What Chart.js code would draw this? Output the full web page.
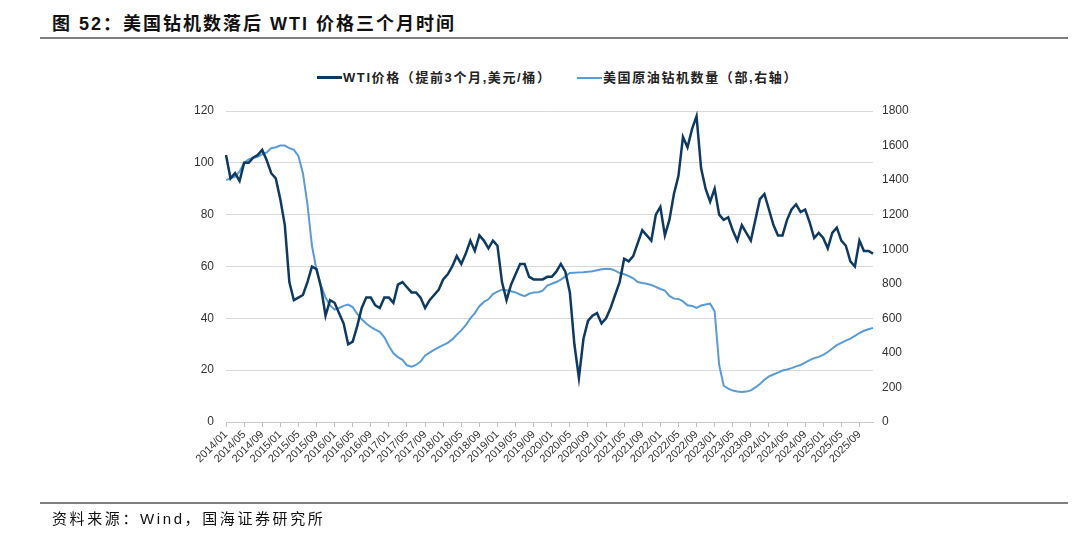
<!DOCTYPE html>
<html>
<head>
<meta charset="utf-8">
<script src="https://cdn.jsdelivr.net/npm/chart.js@4.4.1/dist/chart.umd.min.js"></script>
<style>
  html, body { margin: 0; padding: 0; background: #fff; }
  #wrap { position: relative; width: 1080px; height: 554px; overflow: hidden; }
  canvas { position: absolute; left: 0; top: 0; }
  #title {
    position: absolute; left: 52px; top: 9px;
    font: bold 18px "Liberation Sans", "Noto Sans CJK SC", sans-serif;
    letter-spacing: 2px; color: #111; white-space: nowrap;
  }
  .rule { position: absolute; left: 40px; width: 1028px; height: 2px; background: #808080; }
  .legend-item {
    position: absolute; top: 70px; height: 16px; white-space: nowrap;
    font: bold 13px "Liberation Sans", "Noto Sans CJK SC", sans-serif;
    letter-spacing: 1.6px; color: #222; line-height: 16px;
  }
  .legend-item i { display: inline-block; width: 25px; vertical-align: middle; margin-right: 1px; position: relative; top: -1px; }
  #source {
    position: absolute; left: 52px; top: 507px;
    font: 15px "Liberation Sans", "Noto Sans CJK SC", sans-serif;
    letter-spacing: 2.6px; color: #111; white-space: nowrap;
  }
</style>
</head>
<body>
<div id="wrap">
  <div id="title">图 52：美国钻机数落后 WTI 价格三个月时间</div>
  <div class="rule" style="top:37px"></div>
  <div class="legend-item" style="left:317px"><i style="height:3px;background:#0e3a62"></i>WTI价格（提前3个月,美元/桶）</div>
  <div class="legend-item" style="left:577px"><i style="height:2px;background:#5b9bd5"></i>美国原油钻机数量（部,右轴）</div>
  <canvas id="chart" width="1080" height="554"></canvas>
  <div class="rule" style="top:502px"></div>
  <div id="source">资料来源：Wind，国海证券研究所</div>
</div>
<script>
// monthly categories 2014/01 .. 2025/12
const monthLabels = [];
for (let y = 2014; y <= 2025; y++) {
  for (let m = 1; m <= 12; m++) monthLabels.push(y + "/" + String(m).padStart(2, "0"));
}

// WTI price, shifted 3 months ahead (USD/bbl)
const wtiPrice = [
  103, 94, 96, 93, 100, 100, 102, 103, 105, 101, 96, 94,
  86, 76, 54, 47, 48, 49, 54, 60, 59, 52, 41, 47,
  46, 42, 38, 30, 31, 37, 44, 48, 48, 45, 44, 48,
  48, 46, 53, 54, 52, 50, 50, 48, 44, 47, 49, 51,
  55, 57, 60, 64, 61, 65, 70, 66, 72, 70, 67, 70,
  68, 54, 47, 53, 57, 61, 61, 56, 55, 55, 55, 56,
  56, 58, 61, 58, 50, 30, 17, 32, 39, 41, 42, 38,
  40, 44, 49, 54, 63, 62, 64, 69, 74, 72, 70, 80,
  83, 72, 78, 88, 95, 110, 106, 113, 118, 98, 90, 85,
  90, 80, 78, 79, 74, 70, 76, 73, 70, 78, 86, 88,
  82, 76, 72, 72, 78, 82, 84, 81, 82, 77, 71, 73,
  71, 67, 73, 75, 70, 68, 62, 60, 70, 66, 66, 65
];

// US crude oil rig count (right axis)
const rigCount = [
  1400, 1410, 1420, 1450, 1500, 1520, 1530, 1535, 1550, 1560, 1585, 1590,
  1600, 1600, 1585, 1575, 1540, 1440, 1260, 1020, 880, 790, 720, 675,
  650, 660, 672, 680, 665, 625, 595, 570, 550, 535, 522, 490,
  440, 398, 375, 360, 328, 320, 330, 350, 385, 402, 418, 432,
  445, 458, 478, 505, 530, 560, 600, 630, 670, 695, 710, 740,
  755, 766, 763, 757, 750, 738, 728, 742, 750, 751, 760, 790,
  800, 810, 824, 843, 862, 864, 866, 867, 869, 872, 878, 884,
  887, 885, 876, 862, 855, 845, 832, 810, 804, 800, 793, 782,
  770, 760, 730, 714, 712, 698, 676, 672, 660, 674, 680, 685,
  640, 330, 210, 193, 182, 177, 173, 176, 183, 200, 220, 245,
  264, 275, 286, 298, 304, 312, 322, 330, 343, 358, 370, 377,
  388, 405, 425, 445, 458, 471, 483, 498, 515, 528, 537, 545
];

const leftTicks = [0, 20, 40, 60, 80, 100, 120];
const rightTicks = [0, 200, 400, 600, 800, 1000, 1200, 1400, 1600, 1800];

const numFont = "'Liberation Sans', Arial, sans-serif";

new Chart(document.getElementById("chart"), {
  type: "line",
  data: {
    labels: monthLabels,
    datasets: [
      {
        label: "WTI价格（提前3个月,美元/桶）",
        data: wtiPrice,
        yAxisID: "y",
        borderColor: "#0e3a62",
        borderWidth: 2.5,
        pointRadius: 0,
        tension: 0
      },
      {
        label: "美国原油钻机数量（部,右轴）",
        data: rigCount,
        yAxisID: "y1",
        borderColor: "#5b9bd5",
        borderWidth: 2,
        pointRadius: 0,
        tension: 0
      }
    ]
  },
  options: {
    responsive: false,
    animation: false,
    layout: { padding: { top: 111, left: 0, right: 0, bottom: 0 } },
    plugins: { legend: { display: false }, tooltip: { enabled: false } },
    scales: {
      x: {
        type: "category",
        offset: false,
        grid: { display: true, drawOnChartArea: false, tickLength: 5, color: "#bfbfbf" },
        border: { color: "#c8c8c8" },
        ticks: {
          autoSkip: false,
          maxRotation: 45,
          minRotation: 45,
          padding: 1,
          color: "#333",
          font: { size: 11, family: numFont },
          callback: (v, i) => (i % 4 === 0 ? monthLabels[i] : null)
        },
        afterFit: s => { s.height = 132; }
      },
      y: {
        position: "left",
        min: 0,
        max: 120,
        afterBuildTicks: s => { s.ticks = leftTicks.map(v => ({ value: v })); },
        grid: { color: "#d9d9d9", drawTicks: false },
        border: { display: false },
        ticks: { padding: 12, color: "#333", font: { size: 12, family: numFont }, callback: v => String(v) },
        afterFit: s => { s.width = 226; }
      },
      y1: {
        position: "right",
        min: 0,
        max: 1800,
        afterBuildTicks: s => { s.ticks = rightTicks.map(v => ({ value: v })); },
        grid: { drawOnChartArea: false, drawTicks: false },
        border: { display: false },
        ticks: { padding: 9, color: "#333", font: { size: 12, family: numFont }, callback: v => String(v) },
        afterFit: s => { s.width = 207; }
      }
    }
  }
});
</script>
</body>
</html>
